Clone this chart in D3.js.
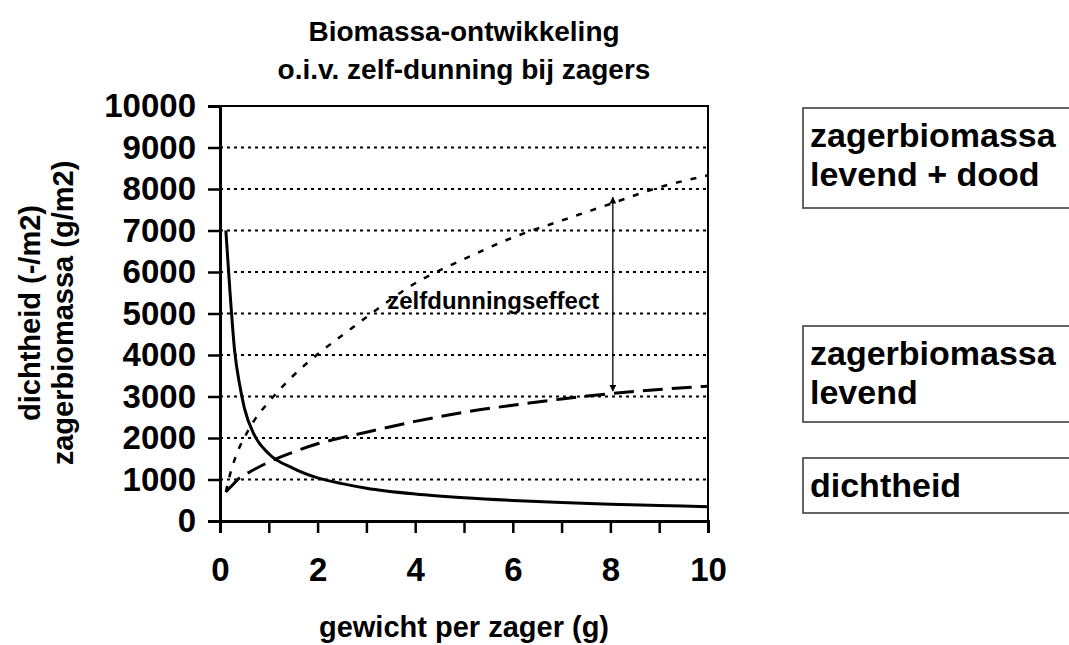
<!DOCTYPE html>
<html>
<head>
<meta charset="utf-8">
<script src="https://cdn.jsdelivr.net/npm/d3@7"></script>
<style>
  body { margin: 0; background: #fff; }
  svg { display: block; font-family: "Liberation Sans", Arial, sans-serif; font-weight: bold; }
</style>
</head>
<body>
<svg width="1069" height="645"></svg>
<script>
// gewicht per zager (g)
const weight = [0.12, 0.2, 0.3, 0.4, 0.5, 0.7, 1, 1.5, 2, 2.5, 3, 4, 5, 6, 7, 8, 9, 10];
// dichtheid (-/m2)
const density = [7000, 5600, 4100, 3300, 2720, 2080, 1620, 1270, 1040, 900, 790, 650, 560, 495, 445, 405, 375, 345];
// zagerbiomassa levend (g/m2)
const biomassAlive = [700, 800, 920, 1040, 1110, 1240, 1420, 1660, 1860, 2010, 2140, 2400, 2620, 2790, 2940, 3070, 3170, 3250];
// zagerbiomassa levend + dood (g/m2)
const biomassTotal = [700, 1100, 1480, 1780, 2010, 2420, 2870, 3500, 4020, 4470, 4910, 5730, 6310, 6830, 7240, 7640, 8040, 8330];

const yTicks = [0, 1000, 2000, 3000, 4000, 5000, 6000, 7000, 8000, 9000, 10000];
const xTicks = [0, 1, 2, 3, 4, 5, 6, 7, 8, 9, 10];
const legendLabels = [["zagerbiomassa", "levend + dood"], ["zagerbiomassa", "levend"], ["dichtheid"]];
const arrowX = 8.05, arrowTop = 7800, arrowBottom = 3130;

const plotLeft = 220, plotRight = 708, plotTop = 106, plotBottom = 521;
const tickFs = 33, titleFs = 28, axisFs = 29, legendFs = 34;

const svg = d3.select('svg');

let x = d3.scaleLinear().domain([0, 10]).range([plotLeft, plotRight]);
let y = d3.scaleLinear().domain([0, 10000]).range([plotBottom, plotTop]);

// stippel-rasterlijnen
svg.append('g')
  .selectAll('line')
  .data(yTicks.filter(d => d > 0 && d < 10000))
  .enter()
  .append('line')
  .attr('x1', plotLeft).attr('x2', plotRight)
  .attr('y1', d => y(d)).attr('y2', d => y(d))
  .attr('stroke', '#000')
  .attr('stroke-width', 2)
  .attr('stroke-dasharray', '3,4');

// kader boven en rechts
svg.append('path')
  .attr('d', `M${plotLeft},${y(10000)}H${x(10)}V${y(0)}`)
  .attr('fill', 'none')
  .attr('stroke', '#000')
  .attr('stroke-width', 2);

// lijnen
const line = vals => d3.line()
  .x((d, i) => x(weight[i]))
  .y(d => y(d))
  .curve(d3.curveMonotoneX)(vals);

svg.append('path').attr('d', line(biomassTotal))
  .attr('fill', 'none').attr('stroke', '#000').attr('stroke-width', 2.5)
  .attr('stroke-dasharray', '6,9');
svg.append('path').attr('d', line(biomassAlive))
  .attr('fill', 'none').attr('stroke', '#000').attr('stroke-width', 3)
  .attr('stroke-dasharray', '20,9');
svg.append('path').attr('d', line(density))
  .attr('fill', 'none').attr('stroke', '#000').attr('stroke-width', 3);

// y-as
let gy = svg.append('g')
  .attr('transform', `translate(${plotLeft},0)`)
  .call(d3.axisLeft(y).tickValues(yTicks).tickSize(12).tickPadding(12).tickFormat(d3.format('d')));
gy.selectAll('path').attr('stroke-width', 3);
gy.selectAll('line').attr('stroke-width', 2.5);
gy.selectAll('text').attr('font-size', tickFs).attr('fill', '#000');
gy.attr('font-family', null).attr('font-size', null);

// x-as
let gx = svg.append('g')
  .attr('transform', `translate(0,${plotBottom})`)
  .call(d3.axisBottom(x).tickValues(xTicks).tickSize(12).tickPadding(25)
    .tickFormat(d => d % 2 === 0 ? d : ''));
gx.selectAll('path').attr('stroke-width', 3);
gx.selectAll('line').attr('stroke-width', 2.5);
gx.selectAll('text').attr('font-size', tickFs).attr('fill', '#000');
gx.attr('font-family', null).attr('font-size', null);

// titel
const title = svg.append('text').attr('text-anchor', 'middle').attr('font-size', titleFs);
title.append('tspan').attr('x', 464).attr('y', 41).text('Biomassa-ontwikkeling');
title.append('tspan').attr('x', 464).attr('y', 79).text('o.i.v. zelf-dunning bij zagers');

// as-titels
svg.append('text')
  .attr('text-anchor', 'middle').attr('font-size', axisFs)
  .attr('x', 464).attr('y', 637)
  .text('gewicht per zager (g)');

const yTitle = svg.append('text')
  .attr('text-anchor', 'middle').attr('font-size', axisFs)
  .attr('transform', `translate(0,313) rotate(-90)`);
yTitle.append('tspan').attr('x', 0).attr('y', 40).text('dichtheid (-/m2)');
yTitle.append('tspan').attr('x', 0).attr('y', 73).text('zagerbiomassa (g/m2)');

// zelfdunningseffect pijl
const defs = svg.append('defs');
defs.append('marker')
  .attr('id', 'head')
  .attr('viewBox', '0 0 10 10')
  .attr('refX', 9).attr('refY', 5)
  .attr('markerWidth', 7).attr('markerHeight', 7)
  .attr('markerUnits', 'userSpaceOnUse')
  .attr('orient', 'auto-start-reverse')
  .append('path').attr('d', 'M0,0L10,5L0,10Z').attr('fill', '#000');

svg.append('line')
  .attr('x1', x(arrowX)).attr('x2', x(arrowX))
  .attr('y1', y(arrowTop)).attr('y2', y(arrowBottom))
  .attr('stroke', '#000').attr('stroke-width', 1.3)
  .attr('marker-start', 'url(#head)').attr('marker-end', 'url(#head)');

svg.append('text')
  .attr('text-anchor', 'middle').attr('font-size', 24)
  .attr('x', x(5.6)).attr('y', y(5100))
  .text('zelfdunningseffect');

// legenda-vakken
const boxes = [[108, 208], [326, 422], [458, 513]];
boxes.forEach((b, i) => {
  svg.append('rect')
    .attr('x', 803).attr('y', b[0])
    .attr('width', 300).attr('height', b[1] - b[0])
    .attr('fill', 'none').attr('stroke', '#333').attr('stroke-width', 1.5);
  legendLabels[i].forEach((t, j) => {
    svg.append('text')
      .attr('x', 810).attr('y', b[0] + 39 + j * 39)
      .attr('font-size', legendFs)
      .text(t);
  });
});
</script>
</body>
</html>
